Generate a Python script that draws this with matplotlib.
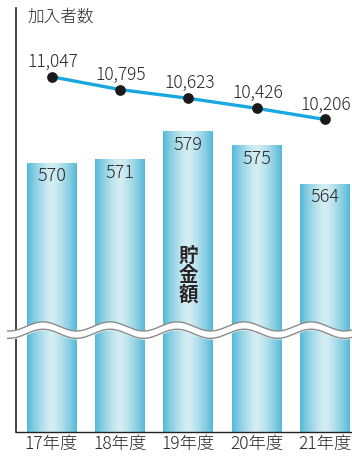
import numpy as np
import matplotlib
matplotlib.use("Agg")
import matplotlib.pyplot as plt

plt.rcParams['font.family'] = ['Noto Sans CJK JP', 'DejaVu Sans']

years = ['17年度', '18年度', '19年度', '20年度', '21年度']
savings = [570, 571, 579, 575, 564]          # 貯金額 (bars)
members = [11047, 10795, 10623, 10426, 10206]  # 加入者数 (line)

W, H, DPI = 352, 457, 100
fig = plt.figure(figsize=(W / DPI, H / DPI), dpi=DPI)

# axes box in pixels: left 16, bottom 25, to right edge, top at y=8
ax = fig.add_axes([16 / W, 25 / H, (W - 16) / W, 424 / H])
ax2 = ax.twinx()

text_col = '#2a2627'
x = np.arange(len(years))
bar_w = 0.73
y_lo, y_hi = 493.3, 614.4

# gradient bars: darker at both edges, pale in the middle
edge = np.array([0x55, 0xb9, 0xd8]) / 255
mid = np.array([0xd4, 0xee, 0xf3]) / 255
t = np.abs(np.linspace(-1, 1, 64))
grad = (mid[None, :] * (1 - t[:, None] ** 1.4) + edge[None, :] * t[:, None] ** 1.4)[None, :, :]

for xi, v in zip(x, savings):
    ax.imshow(grad, extent=(xi - bar_w / 2, xi + bar_w / 2, y_lo, v),
              aspect='auto', interpolation='bilinear', zorder=1)
    ax.annotate(f'{v}', (xi, v), xytext=(0, -13), textcoords='offset pixels',
                ha='center', va='center', fontsize=13, fontweight='light',
                color=text_col, zorder=3)

ax.set_xlim(-0.519, 4.393)
ax.set_ylim(y_lo, y_hi)

ax.text(2, 522.4 + 15.5, '貯\n金\n額', ha='center', va='center', fontsize=14,
        fontweight='bold', color=text_col, linespacing=1.0, zorder=3)

# wavy break band
xs = np.linspace(-0.64, 4.393, 400)
wave = 522.4 + 1.3 * np.cos(2 * np.pi * (xs + 0.124) / 0.98)
ax.fill_between(xs, wave - 1.05, wave + 1.05, color='white', zorder=5, clip_on=False)
ax.plot(xs, wave + 1.05, color='#8a8a8a', lw=1.0, zorder=6, clip_on=False)
ax.plot(xs, wave - 1.05, color='#8a8a8a', lw=1.0, zorder=6, clip_on=False)

# member line
ax2.plot(x, members, color='#18a8e0', lw=2.4, zorder=4)
ax2.scatter(x, members, s=45, color='#1a1a1a', zorder=5)
for xi, v in zip(x, members):
    ax2.annotate(f'{v:,}', (xi, v), xytext=(1, 15), textcoords='offset pixels',
                 ha='center', va='center', fontsize=12.5, fontweight='light',
                 color=text_col)
ax2.set_ylim(4056, 12400)

for a in (ax, ax2):
    for s in ('top', 'right'):
        a.spines[s].set_visible(False)
    a.set_yticks([])
ax2.spines['left'].set_visible(False)
ax2.spines['bottom'].set_visible(False)
ax.spines['left'].set_linewidth(1.2)
ax.spines['bottom'].set_linewidth(1.0)
ax.spines['left'].set_color('#222222')
ax.spines['bottom'].set_color('#222222')

ax.set_xticks(x)
ax.set_xticklabels(years, fontsize=12.5, fontweight='light', color=text_col)
ax.tick_params(axis='x', length=0, pad=2)

fig.text(27 / W, 1 - 17 / H, '加入者数', ha='left', va='center', fontsize=12,
         fontweight='light', color=text_col)

fig.savefig('out.png', dpi=DPI)
